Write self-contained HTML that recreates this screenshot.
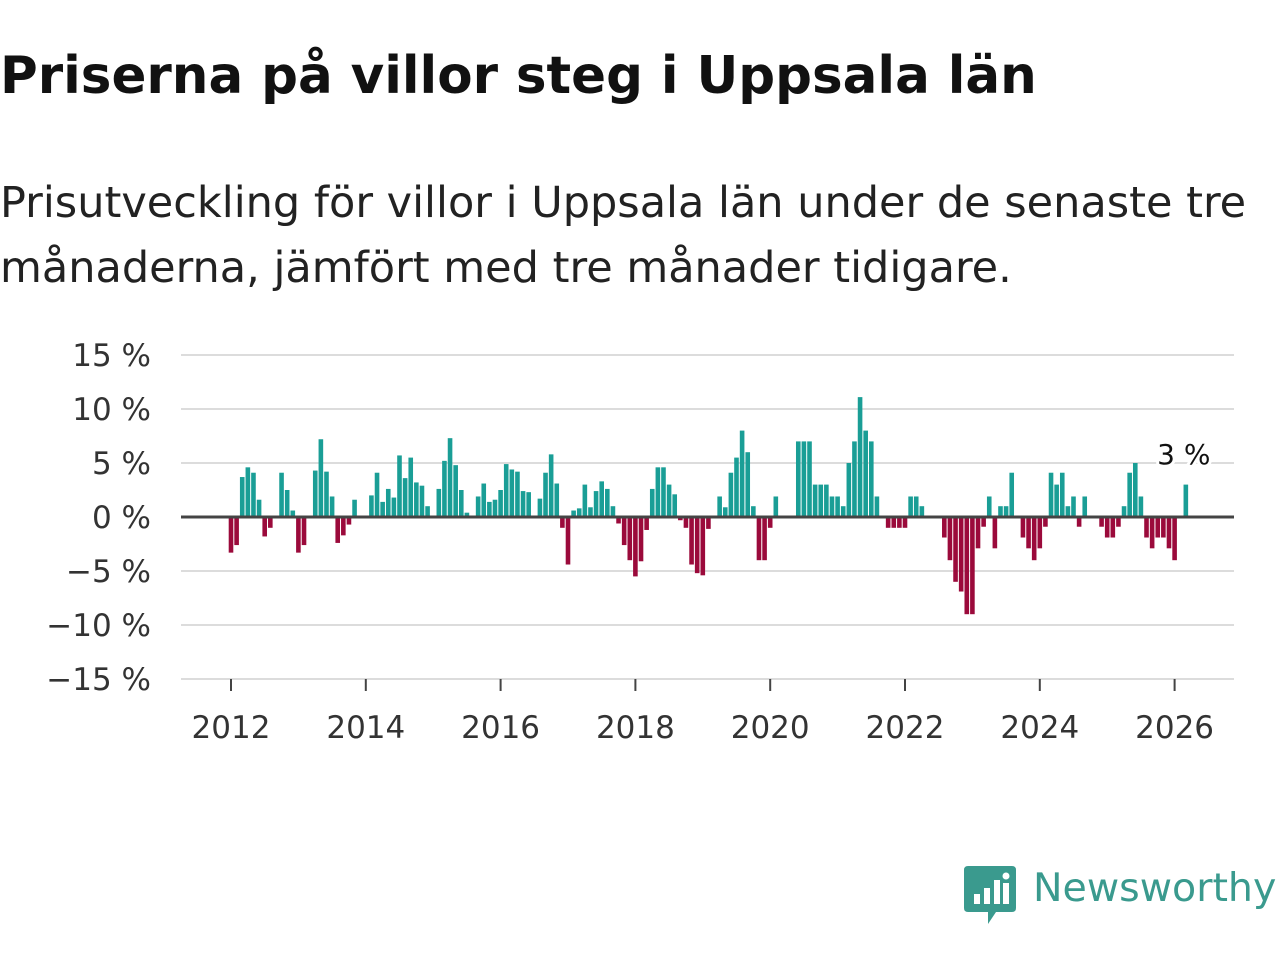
<!DOCTYPE html>
<html><head><meta charset="utf-8"><style>
body{margin:0;width:1280px;height:960px;background:#fff;font-family:"DejaVu Sans","Liberation Sans",sans-serif;overflow:hidden;position:relative}
h1{position:absolute;left:0;top:46px;margin:0;font-size:51.5px;font-weight:bold;color:#111;white-space:nowrap;line-height:1.2}
.sub{position:absolute;left:0;top:171px;margin:0;font-size:43px;line-height:65px;color:#222;white-space:nowrap}
</style></head><body>
<h1>Priserna på villor steg i Uppsala län</h1>
<p class="sub">Prisutveckling för villor i Uppsala län under de senaste tre<br>månaderna, jämfört med tre månader tidigare.</p>
<svg id="chart" width="1280" height="960" style="position:absolute;left:0;top:0"></svg>
<script>
const years=[2012,2013,2014,2015,2016,2017,2018,2019,2020,2021,2022,2023,2024,2025,2026];
const values=[
-3.3,-2.6,3.7,4.6,4.1,1.6,-1.8,-1.0,0,4.1,2.5,0.6,
-3.3,-2.6,0,4.3,7.2,4.2,1.9,-2.4,-1.7,-0.7,1.6,0,
0,2.0,4.1,1.4,2.6,1.8,5.7,3.6,5.5,3.2,2.9,1.0,
0,2.6,5.2,7.3,4.8,2.5,0.4,0,1.9,3.1,1.4,1.6,
2.5,4.9,4.4,4.2,2.4,2.3,0,1.7,4.1,5.8,3.1,-1.0,
-4.4,0.6,0.8,3.0,0.9,2.4,3.3,2.6,1.0,-0.6,-2.6,-4.0,
-5.5,-4.1,-1.2,2.6,4.6,4.6,3.0,2.1,-0.3,-1.0,-4.4,-5.2,
-5.4,-1.1,0,1.9,0.9,4.1,5.5,8.0,6.0,1.0,-4.0,-4.0,
-1.0,1.9,0,0,0,7.0,7.0,7.0,3.0,3.0,3.0,1.9,
1.9,1.0,5.0,7.0,11.1,8.0,7.0,1.9,0,-1.0,-1.0,-1.0,
-1.0,1.9,1.9,1.0,0,0,0,-1.9,-4.0,-6.0,-6.9,-9.0,
-9.0,-2.9,-0.9,1.9,-2.9,1.0,1.0,4.1,0,-1.9,-2.9,-4.0,
-2.9,-0.9,4.1,3.0,4.1,1.0,1.9,-0.9,1.9,0,0,-0.9,
-1.9,-1.9,-0.9,1.0,4.1,5.0,1.9,-1.9,-2.9,-1.9,-1.9,-2.9,
-4.0,0,3.0];
const yTicks=[15,10,5,0,-5,-10,-15];
const yTickLabels=["15 %","10 %","5 %","0 %","\u22125 %","\u221210 %","\u221215 %"];
const xTicks=[2012,2014,2016,2018,2020,2022,2024,2026];
const lastLabel="3 %";

const NS="http://www.w3.org/2000/svg";
const svg=document.getElementById('chart');
const FF='DejaVu Sans, Liberation Sans, sans-serif';
const y=v=>517-v*10.8;
const x=t=>231+(t-2012)*67.4;
function mk(tag,attrs){const e=document.createElementNS(NS,tag);for(const k in attrs)e.setAttribute(k,attrs[k]);svg.appendChild(e);return e;}
yTicks.forEach((v,i)=>{
  if(v!==0){const g=mk('line',{x1:181,x2:1234,y1:y(v),y2:y(v),stroke:'#dcdcdc','stroke-width':2});
  
  }
  const t=mk('text',{x:151,y:y(v)+11,'text-anchor':'end','font-size':31,fill:'#333','font-family':FF});
  t.textContent=yTickLabels[i];
  
  
});
xTicks.forEach(yr=>{
  const l=mk('line',{x1:x(yr),x2:x(yr),y1:y(-15),y2:y(-15)+12,stroke:'#444','stroke-width':2});
  
  
  const t=mk('text',{x:x(yr),y:738,'text-anchor':'middle','font-size':31,fill:'#333','font-family':FF});
  t.textContent=yr;
  
  
});
values.forEach((v,i)=>{
  if(v===0)return;
  const cx=x(2012+i/12);
  const r=mk('rect',{x:cx-2.3,width:4.6,y:Math.min(y(v),y(0)),height:Math.abs(y(v)-y(0)),fill:v>0?'#1a9e96':'#9b0a3b'});
  
  
});
const z=mk('line',{x1:181,x2:1234,y1:y(0),y2:y(0),stroke:'#444','stroke-width':3});


const li=values.length-1;
const lb=mk('text',{x:x(2012+li/12)-2,y:y(5)+1,'text-anchor':'middle','font-size':28,fill:'#111','font-family':FF,stroke:'#fff','stroke-width':6,'paint-order':'stroke'});
lb.textContent=lastLabel;


</script>
<svg width="52" height="60" style="position:absolute;left:964px;top:866px" viewBox="0 0 52 60">
<path d="M4 0H48Q52 0 52 4V42Q52 46 48 46H32L24 58V46H4Q0 46 0 42V4Q0 0 4 0Z" fill="#3a9a8e"/>
<rect x="10" y="28" width="6" height="10" fill="#fff"/><rect x="20" y="22" width="6" height="16" fill="#fff"/><rect x="30" y="14" width="6" height="24" fill="#fff"/><circle cx="42" cy="10" r="3.5" fill="#fff"/><rect x="39" y="17" width="6" height="21" fill="#fff"/>
</svg>
<div style="position:absolute;left:1033px;top:865px;font-size:39.5px;color:#3a9a8e;white-space:nowrap">Newsworthy</div>
</body></html>
